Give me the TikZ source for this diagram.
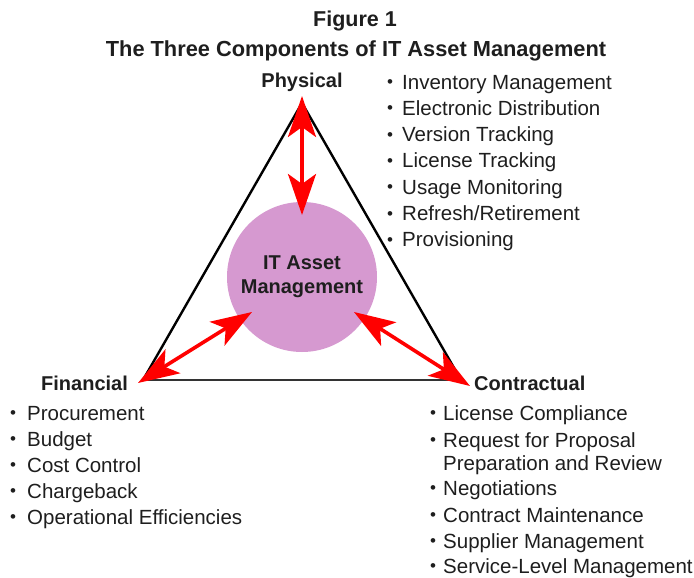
\documentclass[tikz,border=0pt]{standalone}
\usepackage{fontspec}
\setmainfont{Liberation Sans}
\usetikzlibrary{arrows.meta}
\definecolor{assetpink}{HTML}{D699D0}
\definecolor{inkgray}{HTML}{1E1E1E}
\begin{document}
\begin{tikzpicture}[x=1pt,y=-1pt,
  txt/.style={inner sep=0pt, anchor=base west, font=\fontsize{20.5}{24}\selectfont, text=inkgray},
  dot/.style={inner sep=0pt, anchor=base, yshift=1.5pt, font=\fontsize{17}{24}\selectfont, text=inkgray},
  head/.style={inner sep=0pt, font=\bfseries\fontsize{20}{24}\selectfont, text=inkgray},
  tri/.style={line width=2.4pt, black},
  link/.style={red, line width=3.6pt,
    {Stealth[length=41pt,width=28pt,inset=10pt]}-{Stealth[length=41pt,width=28pt,inset=10pt]}}]
\useasboundingbox (0,0) rectangle (694,578);

% titles
\node[head, anchor=base, font=\bfseries\fontsize{21.5}{24}\selectfont] (fig) at (355,27) {Figure 1};
\node[head, anchor=base, font=\bfseries\fontsize{21.8}{24}\selectfont] (title) at (356,57) {The Three Components of IT Asset Management};

% corner points of the triangle and arrow ends
\coordinate (apex) at (302,103);
\coordinate (bl) at (143,380);
\coordinate (br) at (461,380);
\coordinate (apexTip) at (302,96);
\coordinate (leftTip) at (138,383);
\coordinate (rightTip) at (470,386);
\coordinate (topIn) at (302,215);
\coordinate (leftIn) at (252,312);
\coordinate (rightIn) at (354,312);

% triangle
\draw[tri, line join=miter] (bl) -- (apex) -- (br);
\draw[line width=2pt, black!80] (bl) -- (br);

% central circle
\node[circle, fill=assetpink, minimum size=150pt, inner sep=0pt] (itam) at (302,277) {};
\node[head, align=center, font=\bfseries\fontsize{20}{24}\selectfont] (itamtext) at (302,277) {IT Asset\\Management};

% double arrows between the hub and the three components
\draw[link] (apexTip) -- (topIn);
\draw[link] (leftTip) -- (leftIn);
\draw[link] (rightTip) -- (rightIn);

% component headings
\node[head, anchor=base] (phys) at (302,88) {Physical};
\node[head, anchor=base west] (fin) at (41,390) {Financial};
\node[head, anchor=base west] (con) at (474,390) {Contractual};

% physical items
\foreach \t [count=\i] in {Inventory Management, Electronic Distribution, Version Tracking,
  License Tracking, Usage Monitoring, Refresh/Retirement, Provisioning} {
  \pgfmathsetmacro{\yy}{89+26.3*(\i-1)}
  \node[dot] (pb\i) at (390,\yy) {•};
  \node[txt] (pt\i) at (402,\yy) {\t};
}

% financial items
\foreach \t [count=\i] in {Procurement, Budget, Cost Control, Chargeback, Operational Efficiencies} {
  \pgfmathsetmacro{\yy}{420+26*(\i-1)}
  \node[dot] (fb\i) at (13,\yy) {•};
  \node[txt] (ft\i) at (27,\yy) {\t};
}

% contractual items
\node[dot] (cb1) at (433,420) {•};
\node[txt] (ct1) at (443,420) {License Compliance};
\node[dot] (cb2) at (433,447) {•};
\node[txt] (ct2) at (443,447) {Request for Proposal};
\node[txt] (ct2b) at (443,470) {Preparation and Review};
\node[dot] (cb3) at (433,495) {•};
\node[txt] (ct3) at (443,495) {Negotiations};
\node[dot] (cb4) at (433,522) {•};
\node[txt] (ct4) at (443,522) {Contract Maintenance};
\node[dot] (cb5) at (433,548) {•};
\node[txt] (ct5) at (443,548) {Supplier Management};
\node[dot] (cb6) at (433,573) {•};
\node[txt] (ct6) at (443,573) {Service-Level Management};
\end{tikzpicture}
\end{document}
